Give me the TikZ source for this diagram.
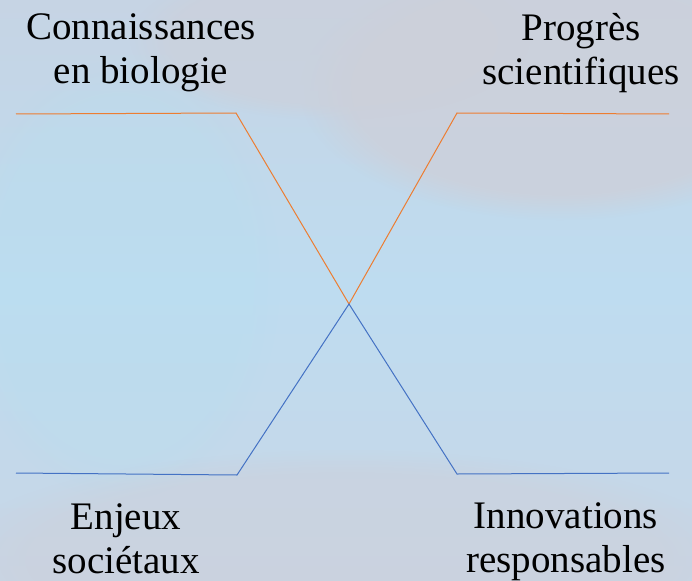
\documentclass[tikz,border=0pt]{standalone}
\usepackage{fontspec}
\setmainfont{Liberation Serif}
\usetikzlibrary{fadings}
\definecolor{bgtop}{RGB}{198,212,228}
\definecolor{bgmid}{RGB}{190,220,240}
\definecolor{bgbot}{RGB}{200,214,230}
\definecolor{bggray}{RGB}{205,208,218}
\definecolor{bgcyan}{RGB}{182,224,240}
\definecolor{lineorange}{RGB}{237,125,49}
\definecolor{lineblue}{RGB}{68,114,196}
\tikzset{
  lbl/.style={align=center, inner sep=0pt, text=black,
    font=\fontsize{39}{44}\selectfont},
  orangeline/.style={draw=lineorange, line width=1pt, line join=miter},
  blueline/.style={draw=lineblue, line width=1pt, line join=miter}
}
\begin{document}
\begin{tikzpicture}[x=1pt, y=-1pt]
  \useasboundingbox (0,0) rectangle (692,580);
  % background
  \shade[top color=bgtop, bottom color=bgbot, middle color=bgmid] (0,0) rectangle (692,580);
  \fill[bggray, opacity=0.8, path fading=circle with fuzzy edge 20 percent] (560,90) ellipse (260 and 130);
  \fill[bggray, opacity=0.6, path fading=circle with fuzzy edge 20 percent] (330,40) ellipse (200 and 80);
  \fill[bgcyan, opacity=0.3, path fading=circle with fuzzy edge 20 percent] (120,280) ellipse (160 and 220);
  \fill[bggray, opacity=0.5, path fading=circle with fuzzy edge 20 percent] (346,560) ellipse (400 and 110);
  % anchor points
  \coordinate (o1) at (16,114);
  \coordinate (o2) at (236,113);
  \coordinate (x)  at (349,304);
  \coordinate (o3) at (457,113);
  \coordinate (o4) at (669,114);
  \coordinate (b1) at (16,473);
  \coordinate (b2) at (237,475);
  \coordinate (b3) at (457,474);
  \coordinate (b4) at (669,473);
  % lines
  \draw[orangeline] (o1) -- (o2) -- (x) -- (o3) -- (o4);
  \draw[blueline] (b1) -- (b2) -- (x) -- (b3) -- (b4);
  % labels
  \node[lbl] (tl) at (141,53) {Connaissances\\en biologie};
  \node[lbl] (tr) at (581,53) {Progrès\\scientifiques};
  \node[lbl] (bl) at (126,539) {Enjeux\\sociétaux};
  \node[lbl] (br) at (566,542) {Innovations\\responsables};
\end{tikzpicture}
\end{document}
